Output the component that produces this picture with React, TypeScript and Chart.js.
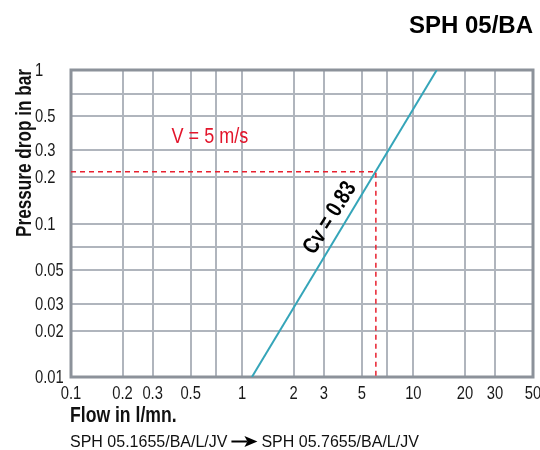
import { useEffect, useRef } from "react";
import { Chart, registerables } from "chart.js";

Chart.register(...registerables);

// ---- data ----
const xGridValues = [0.1, 0.2, 0.3, 0.5, 0.7, 1, 2, 3, 5, 7, 10, 20, 30, 50];
const xTickLabels = ["0.1", "0.2", "0.3", "0.5", "", "1", "2", "3", "5", "", "10", "20", "30", "50"];
const yGridValues = [0.01, 0.02, 0.03, 0.05, 0.07, 0.1, 0.2, 0.3, 0.5, 0.7, 1];
const yTickLabels = ["0.01", "0.02", "0.03", "0.05", "", "0.1", "0.2", "0.3", "0.5", "", "1"];

const cvLineFlow = [1.14, 13.7];
const cvLinePressure = [0.01, 1];

const refFlow = [0.1, 6.04, 6.04];
const refPressure = [0.2176, 0.2176, 0.01];

const velocityLabel = { text: "V = 5 m/s", x: 0.648, y: 0.336 };
const cvLabel = { text: "Cv = 0.83", x: 3.26, y: 0.1086 };

const titleText = "SPH 05/BA";
const yTitleText = "Pressure drop in bar";
const xTitleText = "Flow in l/mn.";
const footerLeft = "SPH 05.1655/BA/L/JV";
const footerRight = "SPH 05.7655/BA/L/JV";

const SANS = "'Liberation Sans', Arial, sans-serif";

function narrowText(
  ctx: CanvasRenderingContext2D,
  text: string,
  x: number,
  y: number,
  font: string,
  color: string,
  align: CanvasTextAlign,
  k = 0.82,
  rotation = 0,
  baseline: CanvasTextBaseline = "alphabetic"
) {
  ctx.save();
  ctx.translate(x, y);
  if (rotation) ctx.rotate(rotation);
  ctx.scale(k, 1);
  ctx.font = font;
  ctx.fillStyle = color;
  ctx.textAlign = align;
  ctx.textBaseline = baseline;
  ctx.fillText(text, 0, 0);
  ctx.restore();
}

const textPlugin = {
  id: "texts",
  beforeDatasetsDraw(chart: any) {
    const { ctx, chartArea } = chart;
    ctx.save();
    ctx.strokeStyle = "#8c929a";
    ctx.lineWidth = 3;
    ctx.strokeRect(chartArea.left, chartArea.top, chartArea.right - chartArea.left, chartArea.bottom - chartArea.top);
    ctx.restore();
  },
  afterDraw(chart: any) {
    const { ctx, chartArea } = chart;
    const xs = chart.scales.x;
    const ys = chart.scales.y;
    ctx.save();

    // tick labels (positioned through the chart's scales)
    const tickFont = `18px ${SANS}`;
    xGridValues.forEach((v, i) => {
      const t = xTickLabels[i];
      if (!t) return;
      narrowText(ctx, t, xs.getPixelForValue(v), 399, tickFont, "#1a1a1a", "center");
    });
    yGridValues.forEach((v, i) => {
      const t = yTickLabels[i];
      if (!t) return;
      narrowText(ctx, t, 35, ys.getPixelForValue(v) + 6, tickFont, "#1a1a1a", "left");
    });

    // title
    ctx.fillStyle = "#000";
    ctx.font = `bold 24px ${SANS}`;
    ctx.textAlign = "right";
    ctx.textBaseline = "alphabetic";
    ctx.fillText(titleText, chartArea.right, 33);

    // y title
    narrowText(ctx, yTitleText, 31, 153, `bold 22px ${SANS}`, "#111", "center", 0.78, -Math.PI / 2);

    // x title
    narrowText(ctx, xTitleText, chartArea.left - 1, 422, `bold 22px ${SANS}`, "#111", "left", 0.8);

    // footer
    ctx.font = `16px ${SANS}`;
    ctx.fillStyle = "#111";
    ctx.textAlign = "left";
    const fx = chartArea.left - 1;
    const fy = 447;
    ctx.fillText(footerLeft, fx, fy);
    const w1 = ctx.measureText(footerLeft).width;
    const ax = fx + w1 + 4;
    ctx.strokeStyle = "#000";
    ctx.lineWidth = 2;
    ctx.beginPath();
    ctx.moveTo(ax, fy - 5.5);
    ctx.lineTo(ax + 16, fy - 5.5);
    ctx.stroke();
    ctx.beginPath();
    ctx.moveTo(ax + 13, fy - 11);
    ctx.lineTo(ax + 26, fy - 5.5);
    ctx.lineTo(ax + 13, fy);
    ctx.lineTo(ax + 16, fy - 5.5);
    ctx.closePath();
    ctx.fillStyle = "#000";
    ctx.fill();
    ctx.fillStyle = "#111";
    ctx.fillText(footerRight, ax + 30, fy);

    // velocity label
    narrowText(
      ctx,
      velocityLabel.text,
      xs.getPixelForValue(velocityLabel.x),
      ys.getPixelForValue(velocityLabel.y),
      `22px ${SANS}`,
      "#e3152b",
      "center"
    );

    // Cv label
    narrowText(
      ctx,
      cvLabel.text,
      xs.getPixelForValue(cvLabel.x),
      ys.getPixelForValue(cvLabel.y),
      `bold 23px ${SANS}`,
      "#000",
      "center",
      0.8,
      (-58 * Math.PI) / 180,
      "middle"
    );

    ctx.restore();
  },
};

export default function App() {
  const canvasRef = useRef<HTMLCanvasElement | null>(null);

  useEffect(() => {
    if (!canvasRef.current) return;
    const chart = new Chart(canvasRef.current, {
      type: "scatter",
      data: {
        datasets: [
          {
            data: refFlow.map((x, i) => ({ x, y: refPressure[i] })),
            showLine: true,
            borderColor: "#e8202f",
            borderWidth: 1.5,
            borderDash: [5, 4],
            pointRadius: 0,
            fill: false,
          },
          {
            data: cvLineFlow.map((x, i) => ({ x, y: cvLinePressure[i] })),
            showLine: true,
            borderColor: "#35a5b9",
            borderWidth: 2,
            pointRadius: 0,
            fill: false,
          },
        ],
      },
      options: {
        animation: false,
        responsive: true,
        maintainAspectRatio: false,
        layout: { padding: { left: 36, top: 70, right: 7, bottom: 0 } },
        plugins: { legend: { display: false }, tooltip: { enabled: false } },
        scales: {
          x: {
            type: "logarithmic",
            min: 0.1,
            max: 50,
            afterBuildTicks: (scale: any) => {
              scale.ticks = xGridValues.map((v) => ({ value: v }));
            },
            afterFit: (scale: any) => {
              scale.height = 73;
              scale.paddingLeft = 0;
              scale.paddingRight = 0;
            },
            ticks: { display: false, autoSkip: false },
            grid: { color: "#b0b5bd", lineWidth: 2, drawTicks: false },
            border: { display: false },
          },
          y: {
            type: "logarithmic",
            min: 0.01,
            max: 1,
            afterBuildTicks: (scale: any) => {
              scale.ticks = yGridValues.map((v) => ({ value: v }));
            },
            afterFit: (scale: any) => {
              scale.width = 35;
              scale.paddingTop = 0;
              scale.paddingBottom = 0;
            },
            ticks: { display: false, autoSkip: false },
            grid: { color: "#b0b5bd", lineWidth: 2, drawTicks: false },
            border: { display: false },
          },
        },
      },
      plugins: [textPlugin],
    } as any);
    return () => chart.destroy();
  }, []);

  return (
    <div style={{ position: "fixed", left: 0, top: 0, width: 540, height: 450 }}>
      <canvas ref={canvasRef} />
    </div>
  );
}
